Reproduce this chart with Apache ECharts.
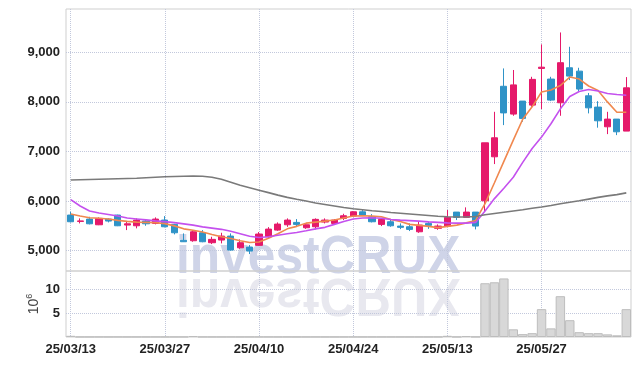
<!DOCTYPE html>
<html><head><meta charset="utf-8">
<script src="https://cdn.jsdelivr.net/npm/echarts@6/dist/echarts.min.js"></script>
<style>html,body{margin:0;padding:0;background:#fff}#c{width:639px;height:366px}</style>
</head><body><div id="c"></div>
<script>
const dates = [
 '25/03/13','25/03/14','25/03/17','25/03/18','25/03/19','25/03/20','25/03/21','25/03/24','25/03/25','25/03/26','25/03/27','25/03/28','25/03/31',
 '25/04/01','25/04/02','25/04/03','25/04/04','25/04/07','25/04/08','25/04/09','25/04/10','25/04/11','25/04/14','25/04/15','25/04/16','25/04/17','25/04/18','25/04/21','25/04/22','25/04/23','25/04/24','25/04/25','25/04/28','25/04/29','25/04/30',
 '25/05/02','25/05/07','25/05/08','25/05/09','25/05/12','25/05/13','25/05/14','25/05/15','25/05/16','25/05/19','25/05/20','25/05/21','25/05/22','25/05/23','25/05/26','25/05/27','25/05/28','25/05/29','25/05/30',
 '25/06/02','25/06/04','25/06/05','25/06/09','25/06/10','25/06/11'
];
// [open, close, low, high]
const ohlc = [
 [5718,5583,5570,5784],[5590,5600,5550,5651],[5637,5542,5530,5683],[5522,5651,5515,5671],[5637,5597,5570,5651],
 [5718,5502,5495,5725],[5516,5542,5415,5583],[5502,5617,5450,5651],[5597,5542,5502,5637],[5550,5637,5530,5671],
 [5617,5482,5470,5697],[5530,5361,5328,5540],[5210,5180,5175,5348],[5200,5381,5180,5415],[5361,5180,5170,5415],
 [5160,5228,5133,5280],[5214,5294,5147,5361],[5294,5012,5000,5348],[5058,5160,5038,5228],[5073,4992,4931,5113],
 [5107,5335,5100,5375],[5280,5435,5260,5475],[5415,5536,5400,5570],[5522,5617,5480,5651],[5570,5530,5480,5637],
 [5462,5522,5440,5550],[5482,5631,5429,5651],[5577,5617,5550,5651],[5550,5617,5530,5637],[5651,5704,5617,5744],
 [5697,5784,5683,5798],[5784,5718,5697,5819],[5683,5583,5570,5737],[5530,5631,5496,5651],[5583,5502,5482,5631],
 [5496,5470,5435,5550],[5482,5429,5395,5550],[5381,5516,5360,5583],[5550,5510,5440,5583],[5450,5496,5420,5530],
 [5496,5671,5482,5819],[5778,5671,5617,5778],[5671,5778,5671,5873],[5778,5496,5429,5778],[6006,7175,5784,7175],
 [6893,7276,6746,7800],[8315,7778,7532,8675],[7754,8343,7720,8643],[8016,7667,7600,8016],[7935,8454,7900,8506],
 [8675,8700,7855,9160],[8460,8036,8016,8506],[7982,8790,7720,9400],[8688,8520,8440,9111],[8620,8258,8218,8688],
 [8123,7880,7768,8180],[7895,7619,7480,8015],[7498,7653,7350,7800],[7653,7397,7330,7653],[7411,8284,7411,8500]
];
// volume, millions of shares
const volume = [
 0.25,0.02,0.02,0.03,0.02,0.03,0.02,0.02,0.02,0.03,0.02,0.03,0.03,0.2,0.03,0.02,0.02,0.03,0.02,0.03,
 0.03,0.03,0.02,0.03,0.02,0.02,0.03,0.02,0.02,0.02,0.03,0.02,0.02,0.02,0.02,0.02,0.02,0.02,0.02,0.03,
 0.25,0.03,0.2,0.05,11.2,11.4,12.2,1.6,0.6,0.8,5.8,1.8,8.5,3.5,1.0,0.8,0.8,0.55,0.35,5.8
];
const ma5 = [
 5738,5700,5665,5655,5640,5610,5590,5575,5570,5565,5545,5500,5440,5410,5375,5325,5280,5245,5200,5165,
 5175,5250,5340,5440,5490,5555,5575,5595,5620,5660,5700,5705,5700,5685,5630,5590,5530,5510,5490,5465,
 5490,5515,5560,5610,5950,6370,6800,7230,7650,7900,8200,8240,8330,8500,8460,8320,8230,8000,7790,7790
];
const ma10 = [
 6030,5900,5800,5760,5730,5700,5660,5640,5620,5600,5585,5565,5540,5515,5480,5455,5430,5390,5340,5290,
 5265,5280,5310,5340,5365,5400,5440,5470,5530,5590,5640,5660,5665,5655,5630,5615,5605,5595,5580,5570,
 5560,5555,5555,5570,5800,6050,6260,6480,6780,7060,7290,7560,7860,8110,8210,8250,8220,8170,8150,8135
];
const maLong = [
 6425,6430,6435,6440,6445,6450,6455,6460,6470,6480,6490,6495,6500,6505,6500,6480,6440,6380,6320,6270,
 6220,6170,6120,6075,6035,6000,5960,5930,5900,5870,5845,5825,5805,5790,5770,5755,5740,5725,5710,5695,
 5685,5680,5680,5690,5725,5750,5775,5800,5825,5855,5880,5910,5945,5975,6005,6040,6075,6105,6130,6165
];
const priceTicks = [5000,6000,7000,8000,9000];
const volTicks = [5,10];

const UP = '#e5196a', DOWN = '#2f93c7';
const gridLine = {show:true, lineStyle:{type:'dotted', color:'#c2c8dc', width:1}};
const labelFont = {fontFamily:'"Liberation Sans",Arial,sans-serif', fontSize:13, fontWeight:'bold', color:'#222'};
const wmFont = 'bold 54px "Liberation Sans", Arial, sans-serif';

const chart = echarts.init(document.getElementById('c'), null, {renderer:'canvas'});
chart.setOption({
  animation:false,
  backgroundColor:'#fff',
  graphic:[
    {type:'text', z:-10, x:176, y:0, scaleX:0.92, originX:0, originY:0,
     style:{text:'investCRUX', x:0, y:258, font:wmFont, fill:'#cfd4e8', verticalAlign:'middle'}},
    {type:'text', z:-10, x:176, y:0, scaleX:0.92, scaleY:-1, originX:0, originY:276,
     style:{text:'investCRUX', x:0, y:258, font:wmFont, fill:'#e8e8ef', verticalAlign:'middle'}}
  ],
  grid:[
    {left:66, right:8, top:9, height:262, show:true, borderColor:'#cfcfcf', borderWidth:1},
    {left:66, right:8, top:271, height:66, show:true, borderColor:'#cfcfcf', borderWidth:1}
  ],
  xAxis:[
    {type:'category', gridIndex:0, data:dates, boundaryGap:true,
     axisLine:{show:false}, axisTick:{show:false, interval:9, alignWithLabel:true}, axisLabel:{show:false, interval:9},
     splitLine:Object.assign({interval:9, alignWithLabel:true}, gridLine)},
    {type:'category', gridIndex:1, data:dates, boundaryGap:true,
     axisLine:{show:false}, axisTick:{show:false, interval:9, alignWithLabel:true},
     axisLabel:Object.assign({interval:9, margin:6}, labelFont),
     splitLine:Object.assign({interval:9, alignWithLabel:true}, gridLine)}
  ],
  yAxis:[
    {type:'value', gridIndex:0, min:4590, max:9873,
     axisLine:{show:false}, axisTick:{show:false, customValues:priceTicks},
     axisLabel:Object.assign({customValues:priceTicks, margin:6, formatter:v=>v.toLocaleString('en-US')}, labelFont),
     splitLine:gridLine},
    {type:'value', gridIndex:1, min:0, max:13.75,
     name:'{n|10}{s|6}', nameLocation:'middle', nameRotate:90, nameGap:23, nameMoveOverlap:false,
     nameTextStyle:{rich:{n:{fontSize:14, color:'#444', fontFamily:'"Liberation Sans",sans-serif'}, s:{fontSize:9, color:'#444', padding:[0,0,9,0], fontFamily:'"Liberation Sans",sans-serif'}}},
     axisLine:{show:false}, axisTick:{show:false, customValues:volTicks},
     axisLabel:Object.assign({customValues:volTicks, margin:6}, labelFont),
     splitLine:gridLine}
  ],
  series:[
    {type:'candlestick', xAxisIndex:0, yAxisIndex:0, data:ohlc, barWidth:'70%',
     itemStyle:{color:UP, color0:DOWN, borderColor:UP, borderColor0:DOWN, borderWidth:1}},
    {type:'line', xAxisIndex:0, yAxisIndex:0, data:ma5, symbol:'none', lineStyle:{color:'#f0884f', width:1.6}},
    {type:'line', xAxisIndex:0, yAxisIndex:0, data:ma10, symbol:'none', lineStyle:{color:'#c451ee', width:1.6}},
    {type:'line', xAxisIndex:0, yAxisIndex:0, data:maLong, symbol:'none', lineStyle:{color:'#7a7a7a', width:1.6}},
    {type:'bar', xAxisIndex:1, yAxisIndex:1, data:volume, barCategoryGap:'0%',
     itemStyle:{color:'#d8d8d8', borderColor:'#bdbdbd', borderWidth:1}}
  ]
});
</script></body></html>
